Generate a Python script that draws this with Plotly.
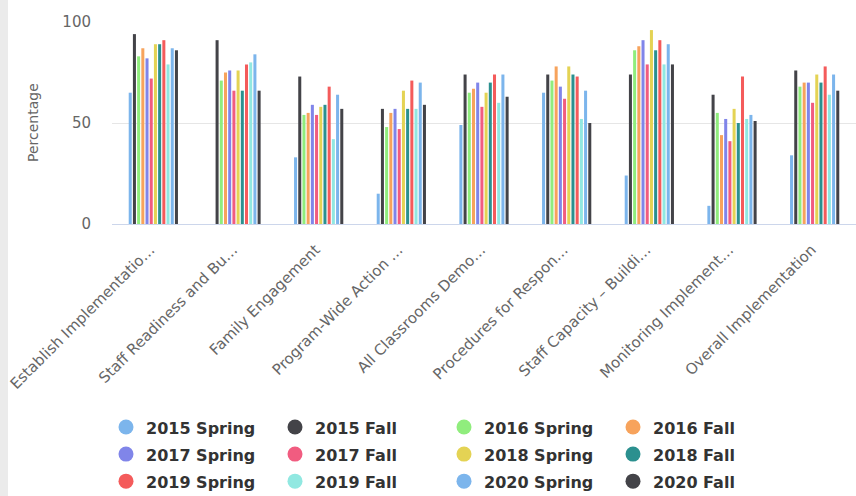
import plotly.graph_objects as go

categories = [
    "Establish Implementatio…",
    "Staff Readiness and Bu…",
    "Family Engagement",
    "Program-Wide Action …",
    "All Classrooms Demo…",
    "Procedures for Respon…",
    "Staff Capacity – Buildi…",
    "Monitoring Implement…",
    "Overall Implementation",
]

series_names = [
    "2015 Spring", "2015 Fall", "2016 Spring", "2016 Fall",
    "2017 Spring", "2017 Fall", "2018 Spring", "2018 Fall",
    "2019 Spring", "2019 Fall", "2020 Spring", "2020 Fall",
]

colors = [
    "#7cb5ec", "#434348", "#90ed7d", "#f7a35c",
    "#8085e9", "#f15c80", "#e4d354", "#2b908f",
    "#f45b5b", "#91e8e1", "#7cb5ec", "#434348",
]

s2015_spring = [65, None, 33, 15, 49, 65, 24, 9, 34]
s2015_fall = [94, 91, 73, 57, 74, 74, 74, 64, 76]
s2016_spring = [83, 71, 54, 48, 65, 71, 86, 55, 68]
s2016_fall = [87, 75, 55, 55, 67, 78, 88, 44, 70]
s2017_spring = [82, 76, 59, 57, 70, 68, 91, 52, 70]
s2017_fall = [72, 66, 54, 47, 58, 62, 79, 41, 60]
s2018_spring = [89, 76, 58, 66, 65, 78, 96, 57, 74]
s2018_fall = [89, 66, 59, 57, 70, 74, 86, 50, 70]
s2019_spring = [91, 79, 68, 71, 74, 73, 91, 73, 78]
s2019_fall = [79, 80, 42, 57, 60, 52, 79, 52, 64]
s2020_spring = [87, 84, 64, 70, 74, 66, 89, 54, 74]
s2020_fall = [86, 66, 57, 59, 63, 50, 79, 51, 66]

series_values = [
    s2015_spring, s2015_fall, s2016_spring, s2016_fall,
    s2017_spring, s2017_fall, s2018_spring, s2018_fall,
    s2019_spring, s2019_fall, s2020_spring, s2020_fall,
]

y_ticks = [0, 50, 100]

FONT = "DejaVu Sans"
L, R, T, B = 112, 0, 22, 272
W, H = 856, 496
pw = W - L - R
ph = H - T - B

fig = go.Figure()
for name, vals, col in zip(series_names, series_values, colors):
    fig.add_trace(go.Bar(
        name=name, x=categories, y=vals, showlegend=False,
        marker=dict(color=col, line=dict(width=0)),
    ))
# legend entries with round symbols
for name, col in zip(series_names, colors):
    fig.add_trace(go.Scatter(
        name='<span style="font-size:16px">' + name + '</span>',
        x=[None], y=[None], mode="markers",
        marker=dict(color=col, size=15, symbol="circle", line=dict(width=0)),
        showlegend=True, hoverinfo="skip",
    ))

fig.update_layout(
    width=W, height=H,
    margin=dict(l=L, r=R, t=T, b=B, autoexpand=False),
    paper_bgcolor="white", plot_bgcolor="white",
    barmode="group", bargap=0.39, bargroupgap=0.28,
    font=dict(family=FONT, color="#666666", size=15),
    showlegend=True,
    legend=dict(
        orientation="h", x=(782 - L) / pw, xanchor="right",
        y=-(408.5 - (H - B)) / ph, yanchor="top",
        font=dict(family=FONT, size=18.5, color="#333333", weight="bold"),
        entrywidth=124, itemwidth=30,
        bgcolor="rgba(0,0,0,0)",
    ),
    xaxis=dict(
        tickangle=-45, showgrid=False, showline=True,
        linecolor="#ccd6eb", linewidth=1, ticks="",
        tickfont=dict(family=FONT, size=15, color="#666666"),
        ticklabelstandoff=10, ticklabelshift=-3,
        fixedrange=True,
    ),
    yaxis=dict(
        range=[0, 100], tickvals=y_ticks, showgrid=True,
        gridcolor="#e6e6e6", gridwidth=1, zeroline=False,
        showline=False, ticks="", ticklabelstandoff=20,
        tickfont=dict(family=FONT, size=15, color="#666666"),
        fixedrange=True,
    ),
    shapes=[dict(
        type="rect", xref="paper", yref="paper",
        x0=-L / pw, x1=(8 - L) / pw, y0=-3, y1=3,
        fillcolor="#ebebeb", line=dict(width=0), layer="below",
    )],
    annotations=[dict(
        text="Percentage", textangle=-90, xref="paper", yref="paper",
        x=(33 - L) / pw, y=0.5, xanchor="center", yanchor="middle",
        showarrow=False, font=dict(family=FONT, size=14, color="#666666"),
    )],
)

fig.write_html(
    "out.html",
    config={"displayModeBar": False},
    post_script="document.body.style.margin='0';",
)
